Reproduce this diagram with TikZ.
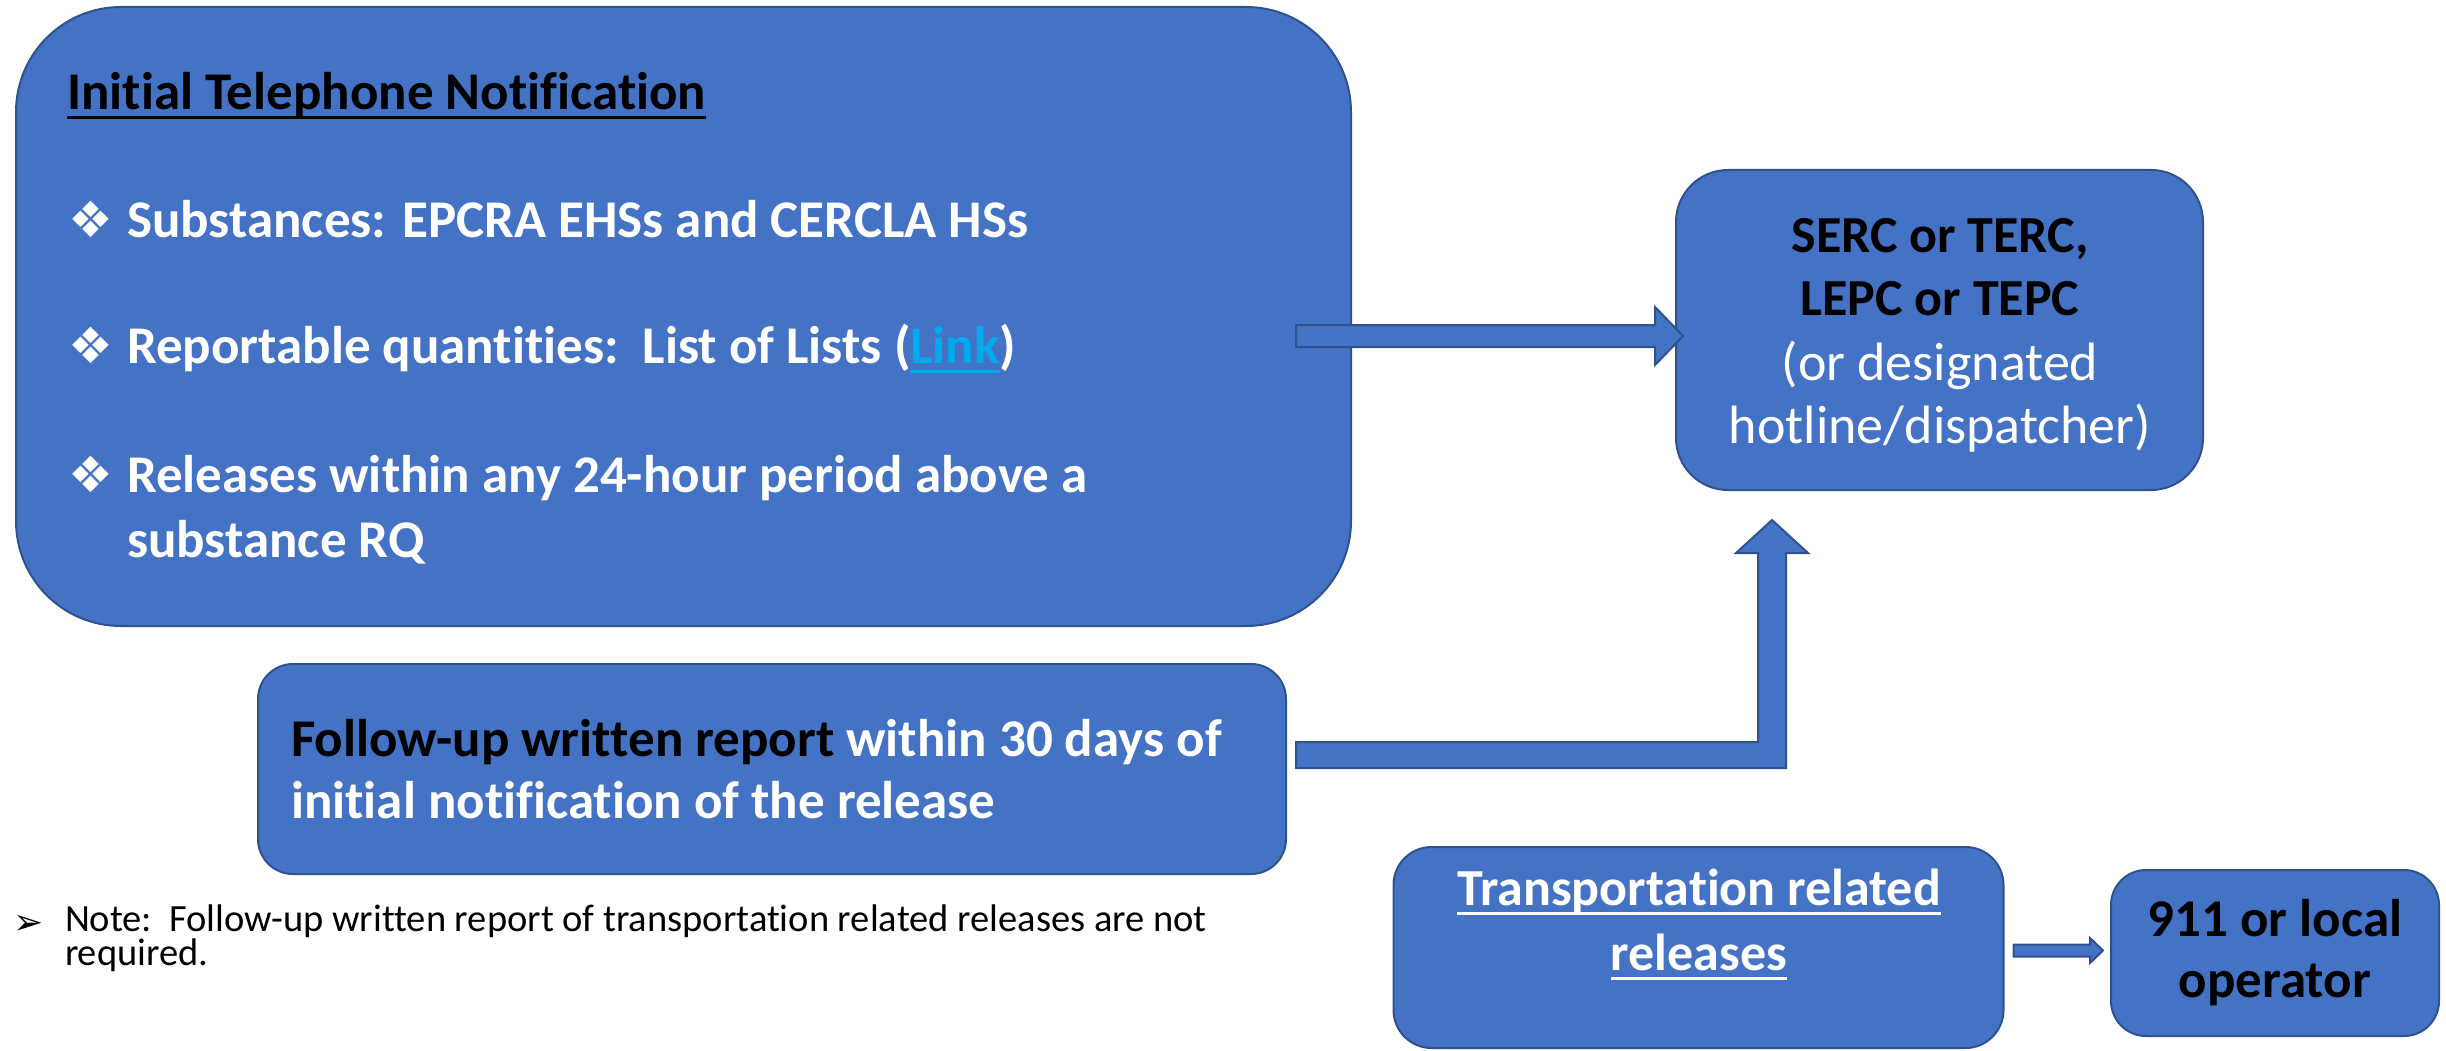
\documentclass[tikz,border=0pt]{standalone}
\usepackage{fontspec}
\setmainfont{Carlito}[Ligatures={NoCommon}]
\newfontfamily\dejavu{DejaVu Sans}
\usetikzlibrary{calc}
\definecolor{boxblue}{HTML}{4472C4}
\definecolor{boxedge}{HTML}{2F528F}
\definecolor{linkblue}{HTML}{00AAEF}
\newsavebox\ulbox
\newcommand\uln[1]{\sbox\ulbox{#1}\rlap{\rule[-9.5pt]{\wd\ulbox}{3pt}}\usebox\ulbox}
\newcommand\harrow[5]{%
  \draw[blockarrow] ($(#1)+(0,-#3)$) -- ($(#2)+(-#5,-#3)$) -- ($(#2)+(-#5,-#4)$) -- (#2)
    -- ($(#2)+(-#5,#4)$) -- ($(#2)+(-#5,#3)$) -- ($(#1)+(0,#3)$) -- cycle;}
\tikzset{
  box/.style={draw=boxedge, line width=2pt, fill=boxblue, rectangle},
  blockarrow/.style={draw=boxedge, line width=2pt, fill=boxblue, line join=miter},
  wtxt/.style={anchor=base west, text=white, font=\bfseries\fontsize{53}{62}\selectfont},
  ctxt/.style={anchor=base, text=black, font=\bfseries\fontsize{52}{60}\selectfont},
  diam/.style={anchor=base west, text=white, font=\dejavu\fontsize{50}{56}\selectfont},
  notetxt/.style={anchor=base west, align=left, font=\fontsize{38.5}{29}\selectfont},
}
\begin{document}
\begin{tikzpicture}[x=1pt,y=-1pt, every node/.style={inner sep=0pt, outer sep=0pt}]
\path[use as bounding box] (0,0) rectangle (2446,1051);

% boxes
\node[box, minimum width=1335pt, minimum height=619pt, rounded corners=105pt] (init) at (683.5,316.5) {};
\node[box, minimum width=527pt, minimum height=320pt, rounded corners=52pt] (serc) at (1939.5,330) {};
\node[box, minimum width=1028pt, minimum height=210pt, rounded corners=35pt] (follow) at (772,769) {};
\node[box, minimum width=610pt, minimum height=201pt, rounded corners=38pt] (trans) at (1698.5,947.5) {};
\node[box, minimum width=328pt, minimum height=166pt, rounded corners=35pt] (nine) at (2275,953) {};

% box 1 text
\node[wtxt, text=black] (title) at (67,110) {\uln{Initial Telephone Notification}};
\node[diam] (d1) at (68,237) {❖};
\node[wtxt] (b1) at (127,237) {Substances: EPCRA EHSs and CERCLA HSs};
\node[diam] (d2) at (68,363) {❖};
\node[wtxt] (b2) at (127,363) {Reportable quantities:\hspace{0.45em}List of Lists (\textcolor{linkblue}{\uln{Link}})};
\node[diam] (d3) at (68,492) {❖};
\node[wtxt] (b3) at (127,492) {Releases within any 24-hour period above a};
\node[wtxt] (b3b) at (127,557) {substance RQ};

% SERC text
\node[ctxt] (s1) at (1940,252) {SERC or TERC,};
\node[ctxt] (s2) at (1940,315) {LEPC or TEPC};
\node[ctxt, text=white, font=\fontsize{54}{60}\selectfont] (s3) at (1940,380) {(or designated};
\node[ctxt, text=white, font=\fontsize{54}{60}\selectfont] (s4) at (1940,443) {hotline/dispatcher)};

% follow-up text
\node[wtxt] (f1) at (291,756) {\textcolor{black}{Follow-up written report} within 30 days of};
\node[wtxt] (f2) at (291,818) {initial notification of the release};

% transport text
\node[ctxt, text=white] (t1) at (1699,905) {\uln{Transportation related}};
\node[ctxt, text=white] (t2) at (1699,970) {\uln{releases}};

% 911 text
\node[ctxt, font=\bfseries\fontsize{53}{60}\selectfont] (n1) at (2275,936) {911 or local};
\node[ctxt, font=\bfseries\fontsize{53}{60}\selectfont] (n2) at (2275,997) {operator};

% note
\node[anchor=base west, font=\dejavu\fontsize{36}{40}\selectfont] (nb) at (13,934) {➢};
\node[notetxt, anchor=north west] (note) at (65,905) {Note:\hspace{0.45em}Follow-up written report of transportation related releases are not\\required.};

% arrows
\coordinate (a1s) at (1296,336);
\coordinate (a1e) at ($(serc.west |- a1s)+(7,0)$);
\harrow{a1s}{a1e}{11}{29}{28}

\coordinate (a2s) at ($(follow.east)+(10,-14)$);
\coordinate (a2e) at ($(serc.south)+(-167.5,30)$);
\draw[blockarrow] ($(a2s)+(0,-13)$) -- ($(a2e |- a2s)+(-14,-13)$) -- ($(a2e)+(-14,33)$) -- ($(a2e)+(-36,33)$) -- (a2e)
  -- ($(a2e)+(36,33)$) -- ($(a2e)+(14,33)$) -- ($(a2e |- a2s)+(14,13)$) -- ($(a2s)+(0,13)$) -- cycle;

\coordinate (a3s) at ($(trans.east)+(10,3)$);
\coordinate (a3e) at ($(nine.west |- a3s)+(-8,0)$);
\harrow{a3s}{a3e}{6}{12.5}{13}
\end{tikzpicture}
\end{document}
